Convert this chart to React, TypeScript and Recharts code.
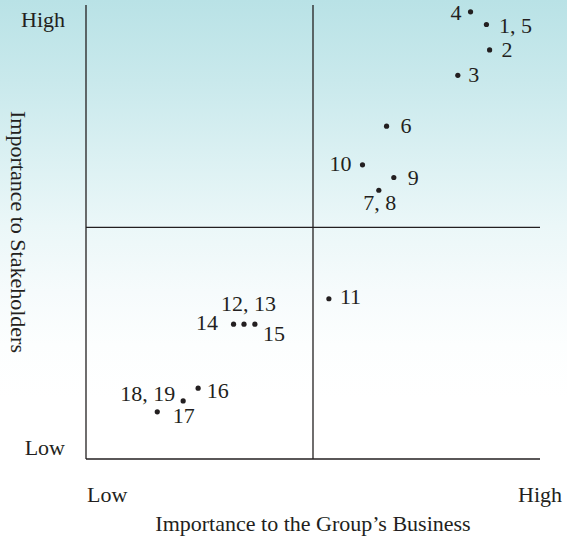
import { ReferenceLine, Scatter, ScatterChart, XAxis, YAxis } from "recharts";

// issue numbers as printed next to each dot
const issueLabels = ["4", "1, 5", "2", "3", "6", "10", "9", "7, 8", "11", "14", "12, 13", "15", "16", "18, 19", "17"];
// importance to the group's business (0 = low, 10 = high)
const businessImportance = [8.47, 8.82, 8.89, 8.19, 6.62, 6.09, 6.78, 6.45, 5.35, 3.25, 3.48, 3.72, 2.47, 2.14, 1.57];
// importance to stakeholders (0 = low, 10 = high)
const stakeholderImportance = [9.85, 9.57, 9.01, 8.45, 7.33, 6.48, 6.2, 5.92, 3.53, 2.97, 2.97, 2.97, 1.56, 1.28, 1.04];

const scaleTicks = [0, 10];
const scaleTickLabels = ["Low", "High"];
const quadrantX = 5;
const quadrantY = 5.1;

const data = issueLabels.map((label, i) => ({
  label,
  x: businessImportance[i],
  y: stakeholderImportance[i],
}));

const INK = "#231f20";
const FONT = "'Liberation Serif', 'Times New Roman', serif";

// where each number sits relative to its dot
const labelPlacement: Record<string, { anchor: "start" | "middle" | "end"; dx: number; dy: number }> = {
  "4": { anchor: "end", dx: -9, dy: 1 },
  "1, 5": { anchor: "start", dx: 12.5, dy: 1.5 },
  "2": { anchor: "start", dx: 12, dy: 0 },
  "3": { anchor: "start", dx: 10.5, dy: 0 },
  "6": { anchor: "start", dx: 14, dy: 0 },
  "10": { anchor: "end", dx: -11, dy: -0.5 },
  "9": { anchor: "start", dx: 14, dy: 0 },
  "7, 8": { anchor: "middle", dx: 1, dy: 13 },
  "11": { anchor: "start", dx: 11, dy: -1.5 },
  "14": { anchor: "end", dx: -15.5, dy: -1 },
  "12, 13": { anchor: "middle", dx: 4.5, dy: -20 },
  "15": { anchor: "start", dx: 8, dy: 10 },
  "16": { anchor: "start", dx: 8.5, dy: 2.5 },
  "18, 19": { anchor: "end", dx: -8, dy: -6.5 },
  "17": { anchor: "start", dx: 15.5, dy: 4.5 },
};

function IssueDot(props: any) {
  const { cx, cy, payload } = props;
  const place = labelPlacement[payload.label] ?? { anchor: "start", dx: 10, dy: 0 };
  return (
    <g>
      <circle cx={cx} cy={cy} r={2.6} fill={INK} />
      <text
        x={cx + place.dx}
        y={cy + place.dy + 7}
        textAnchor={place.anchor}
        fontFamily={FONT}
        fontSize={22}
        fill={INK}
      >
        {payload.label}
      </text>
    </g>
  );
}

function XTick(props: any) {
  const { x, y, payload, index } = props;
  const isLow = payload.value === scaleTicks[0];
  return (
    <text
      x={isLow ? x + 1 : x}
      y={y + 35}
      textAnchor={isLow ? "start" : "middle"}
      fontFamily={FONT}
      fontSize={22}
      fill={INK}
    >
      {scaleTickLabels[index]}
    </text>
  );
}

function YTick(props: any) {
  const { y, payload, index } = props;
  const isLow = payload.value === scaleTicks[0];
  return (
    <text
      x={65}
      y={isLow ? y - 4 : y + 18}
      textAnchor="end"
      fontFamily={FONT}
      fontSize={22}
      fill={INK}
    >
      {scaleTickLabels[index]}
    </text>
  );
}

function XTitle(props: any) {
  const { viewBox } = props;
  return (
    <text
      x={viewBox.x + viewBox.width / 2}
      y={viewBox.y + 72}
      textAnchor="middle"
      fontFamily={FONT}
      fontSize={22}
      fill={INK}
    >
      Importance to the Group’s Business
    </text>
  );
}

function YTitle(props: any) {
  const { viewBox } = props;
  const cy = viewBox.y + viewBox.height / 2;
  return (
    <text
      x={10.5}
      y={cy}
      textAnchor="middle"
      transform={`rotate(90, 10.5, ${cy})`}
      fontFamily={FONT}
      fontSize={22}
      fill={INK}
    >
      Importance to Stakeholders
    </text>
  );
}

export default function App() {
  return (
    <div
      style={{
        position: "absolute",
        left: 0,
        top: 0,
        width: 567,
        height: 539,
        background:
          "linear-gradient(180deg, #b9e2e6 0%, #c9e9ec 15%, #dcf1f3 30%, #ebf7f8 42%, #f6fbfc 54%, #fcfefe 64%, #ffffff 74%)",
      }}
    >
      <ScatterChart width={567} height={539} margin={{ top: 5, right: 27, bottom: 0, left: 0 }}>
        <XAxis
          type="number"
          dataKey="x"
          domain={[0, 10]}
          ticks={scaleTicks}
          height={80}
          axisLine={{ stroke: INK, strokeWidth: 1.3 }}
          tickLine={false}
          tick={<XTick />}
          label={<XTitle />}
        />
        <YAxis
          type="number"
          dataKey="y"
          domain={[0, 10]}
          ticks={scaleTicks}
          width={86}
          axisLine={{ stroke: INK, strokeWidth: 1.3 }}
          tickLine={false}
          tick={<YTick />}
          label={<YTitle />}
        />
        <ReferenceLine x={quadrantX} stroke={INK} strokeWidth={1.3} />
        <ReferenceLine y={quadrantY} stroke={INK} strokeWidth={1.3} />
        <Scatter data={data} shape={<IssueDot />} isAnimationActive={false} />
      </ScatterChart>
    </div>
  );
}
